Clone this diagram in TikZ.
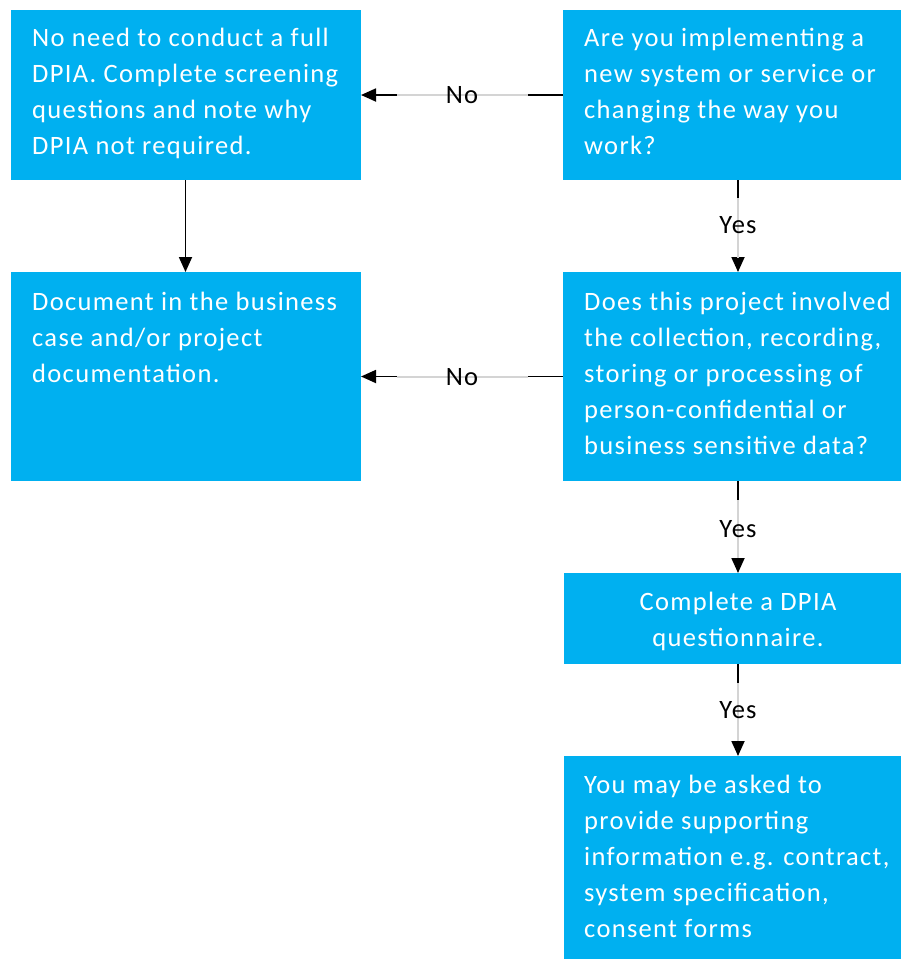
\documentclass[tikz,border=0pt]{standalone}
\usepackage{fontspec}
\setmainfont{Carlito}[LetterSpace=5.0]
\usetikzlibrary{arrows.meta,calc}
\definecolor{boxblue}{HTML}{00B0F0}
\definecolor{linegray}{HTML}{D4D4D4}
\begin{document}
\begin{tikzpicture}[x=1pt,y=-1pt,
  box/.style={fill=boxblue,draw=none,inner sep=0pt,outer sep=0pt,anchor=north west},
  txt/.style={text=white,font=\fontsize{26.5}{36}\selectfont,align=left,inner sep=0pt,anchor=north west},
  conn/.style={draw=black,line width=1.8pt,-{Triangle[length=15pt,width=13pt]}},
  mid/.style={draw=linegray,line width=2pt},
  lbl/.style={font=\fontsize{26.5}{30}\selectfont,inner sep=0pt,text=black,anchor=base}]
\useasboundingbox (0,0) rectangle (901,959);
% boxes
\node[box,minimum width=350pt,minimum height=170pt] (A) at (11,10) {};
\node[box,minimum width=338pt,minimum height=170pt] (B) at (563,10) {};
\node[box,minimum width=350pt,minimum height=209pt] (C) at (11,272) {};
\node[box,minimum width=338pt,minimum height=209pt] (D) at (563,272) {};
\node[box,minimum width=337pt,minimum height=91pt] (E) at (564,573) {};
\node[box,minimum width=337pt,minimum height=203pt] (F) at (564,756) {};
% texts
\node[txt] (tA) at (32,20.8) {\strut No need to conduct a full\\DPIA. Complete screening\\questions and note why\\DPIA not required.};
\node[txt] (tB) at (584,20.8) {\strut Are you implementing a\\new system or service or\\changing the way you\\work?};
\node[txt] (tC) at (32,284.8) {\strut Document in the business\\case and/or project\\documentation.};
\node[txt] (tD) at (584,284.8) {\strut Does this project involved\\the collection, recording,\\storing or processing of\\person-confidential or\\business sensitive data?};
\node[txt,align=center,anchor=north] (tE) at (738,584.8) {\strut Complete a DPIA\\questionnaire.};
\node[txt] (tF) at (584,767.8) {\strut You may be asked to\\provide supporting\\information e.g. contract,\\system specification,\\consent forms};
% connectors
\draw[conn] (B.west) -- (A.east);
\draw[mid] ($(B.west)+(-35,0)$) -- ($(A.east)+(36,0)$);
\node[lbl] (n1) at (462,103) {No};

\draw[conn] (D.west) -- (C.east);
\draw[mid] ($(D.west)+(-35,0)$) -- ($(C.east)+(36,0)$);
\node[lbl] (n2) at (462,385) {No};

\draw[conn] ([xshift=-0.5pt]A.south) -- ([xshift=-0.5pt]C.north);

\draw[conn] ([xshift=6pt]B.south) -- ([xshift=6pt]D.north);
\draw[mid] ($([xshift=6pt]B.south)+(0,18)$) -- ($([xshift=6pt]D.north)+(0,-14)$);
\node[lbl] (y1) at (738,233) {Yes};

\draw[conn] ([xshift=6pt]D.south) -- ([xshift=5.5pt]E.north);
\draw[mid] ($([xshift=6pt]D.south)+(0,19)$) -- ($([xshift=5.5pt]E.north)+(0,-15)$);
\node[lbl] (y2) at (738,537) {Yes};

\draw[conn] ([xshift=5.5pt]E.south) -- ([xshift=5.5pt]F.north);
\draw[mid] ($([xshift=5.5pt]E.south)+(0,19)$) -- ($([xshift=5.5pt]F.north)+(0,-15)$);
\node[lbl] (y3) at (738,718) {Yes};
\end{tikzpicture}
\end{document}
